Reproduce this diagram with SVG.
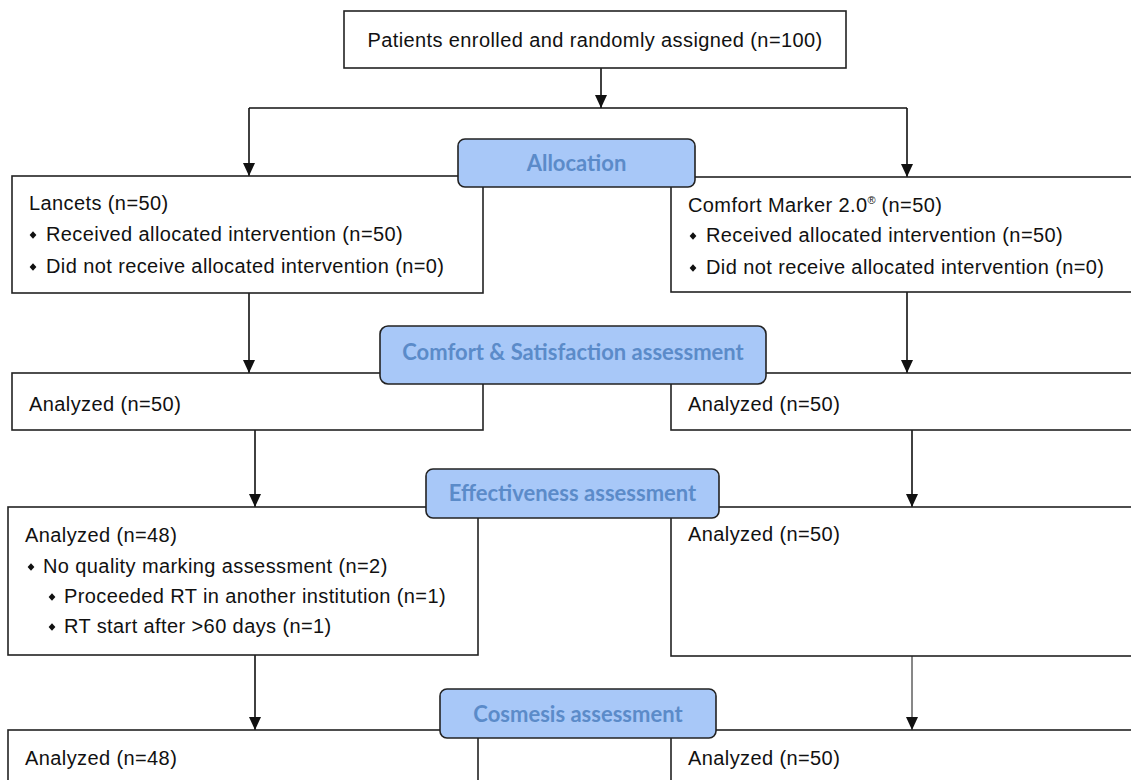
<svg xmlns="http://www.w3.org/2000/svg" width="1131" height="780" viewBox="0 0 1131 780">
<style>
.box{fill:#fff;stroke:#222;stroke-width:1.6}
.lab{fill:#a8c8f8;stroke:#222;stroke-width:1.6}
.t{font-family:"Liberation Sans",Arial,sans-serif;font-size:20px;letter-spacing:0.4px;fill:#111}
.lt{font-family:Lato,"Open Sans",sans-serif;font-weight:bold;font-size:22px;fill:#5b8bc9;text-anchor:middle}
.c{fill:none;stroke:#111;stroke-width:1.6}
</style>
<defs>
<marker id="ah" markerWidth="13" markerHeight="13" viewBox="0 0 13 13" refX="13" refY="6.5" orient="auto" markerUnits="userSpaceOnUse">
<path d="M0,0.5 L13,6.5 L0,12.5 Z" fill="#111"/>
</marker>
<path id="dm" d="M0,-3.8 L3.4,0 L0,3.8 L-3.4,0 Z" fill="#111"/>
</defs>
<g id="connectors">
<line class="c" x1="601" y1="68" x2="601" y2="108" marker-end="url(#ah)"/>
<line class="c" x1="249" y1="108" x2="907" y2="108"/>
<line class="c" x1="249" y1="108" x2="249" y2="176" marker-end="url(#ah)"/>
<line class="c" x1="907" y1="108" x2="907" y2="177" marker-end="url(#ah)"/>
<line class="c" x1="249" y1="293" x2="249" y2="373" marker-end="url(#ah)"/>
<line class="c" x1="907" y1="292" x2="907" y2="373" marker-end="url(#ah)"/>
<line class="c" x1="255" y1="430" x2="255" y2="507" marker-end="url(#ah)"/>
<line class="c" x1="912" y1="430" x2="912" y2="507" marker-end="url(#ah)"/>
<line class="c" x1="255" y1="655" x2="255" y2="730" marker-end="url(#ah)"/>
<line class="c" style="stroke-width:1" x1="912" y1="656" x2="912" y2="730" marker-end="url(#ah)"/>
</g>
<g id="enrolled">
<rect class="box" x="344" y="11" width="502" height="57"/>
<text class="t" x="595" y="47" text-anchor="middle">Patients enrolled and randomly assigned (n=100)</text>
</g>
<g id="lancets">
<rect class="box" x="12" y="176" width="471" height="117"/>
<text class="t" x="29" y="210">Lancets (n=50)</text>
<use href="#dm" x="33" y="235"/>
<text class="t" x="46" y="241">Received allocated intervention (n=50)</text>
<use href="#dm" x="33" y="267"/>
<text class="t" x="46" y="273">Did not receive allocated intervention (n=0)</text>
</g>
<g id="comfort-marker">
<rect class="box" x="671" y="177" width="470" height="115"/>
<text class="t" x="688" y="212">Comfort Marker 2.0<tspan font-size="11" dy="-8" letter-spacing="0">®</tspan><tspan dy="8"> (n=50)</tspan></text>
<use href="#dm" x="693" y="236"/>
<text class="t" x="706" y="242">Received allocated intervention (n=50)</text>
<use href="#dm" x="693" y="268"/>
<text class="t" x="706" y="274">Did not receive allocated intervention (n=0)</text>
</g>
<g id="cs-left">
<rect class="box" x="12" y="373" width="471" height="57"/>
<text class="t" x="29" y="411">Analyzed (n=50)</text>
</g>
<g id="cs-right">
<rect class="box" x="671" y="373" width="470" height="57"/>
<text class="t" x="688" y="411">Analyzed (n=50)</text>
</g>
<g id="eff-left">
<rect class="box" x="8" y="507" width="470" height="148"/>
<text class="t" x="25" y="542">Analyzed (n=48)</text>
<use href="#dm" x="31" y="567"/>
<text class="t" x="43" y="573">No quality marking assessment (n=2)</text>
<use href="#dm" x="52" y="597"/>
<text class="t" x="64" y="603">Proceeded RT in another institution (n=1)</text>
<use href="#dm" x="52" y="627"/>
<text class="t" x="64" y="633">RT start after &gt;60 days (n=1)</text>
</g>
<g id="eff-right">
<rect class="box" x="671" y="507" width="470" height="149"/>
<text class="t" x="688" y="541">Analyzed (n=50)</text>
</g>
<g id="cos-left">
<rect class="box" x="8" y="730" width="470" height="70"/>
<text class="t" x="25" y="765">Analyzed (n=48)</text>
</g>
<g id="cos-right">
<rect class="box" x="671" y="730" width="470" height="70"/>
<text class="t" x="688" y="765">Analyzed (n=50)</text>
</g>
<g id="allocation">
<rect class="lab" x="458" y="139" width="237" height="48" rx="7"/>
<text class="lt" x="576.5" y="171">Allocation</text>
</g>
<g id="comfort-satisfaction">
<rect class="lab" x="380" y="326" width="386" height="58" rx="8"/>
<text class="lt" x="573" y="360">Comfort &amp; Satisfaction assessment</text>
</g>
<g id="effectiveness">
<rect class="lab" x="426" y="469" width="293" height="49" rx="7"/>
<text class="lt" x="572.5" y="501">Effectiveness assessment</text>
</g>
<g id="cosmesis">
<rect class="lab" x="440" y="689" width="276" height="49" rx="7"/>
<text class="lt" x="578" y="722">Cosmesis assessment</text>
</g>
</svg>
